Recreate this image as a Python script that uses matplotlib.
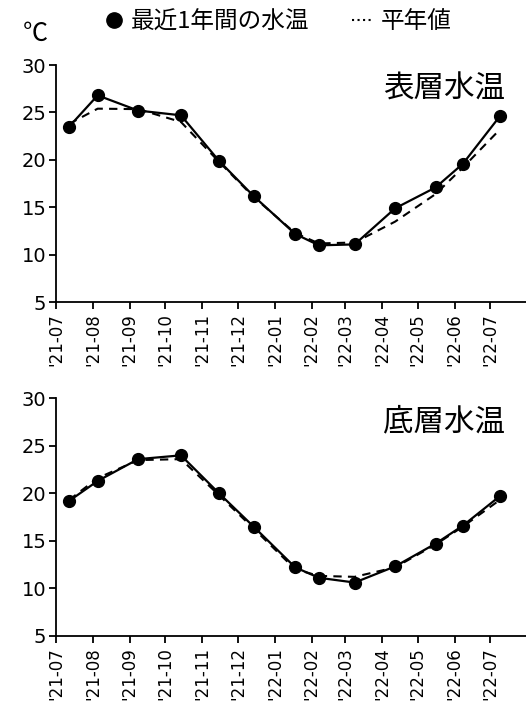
import numpy as np
import matplotlib
matplotlib.use('Agg')
import matplotlib.pyplot as plt
import matplotlib.dates as mdates
from matplotlib.lines import Line2D

plt.rcParams['font.family'] = ['Noto Sans CJK JP', 'DejaVu Sans']

# observation dates (same for both panels)
dates = np.array(['2021-07-12', '2021-08-05', '2021-09-08', '2021-10-14', '2021-11-15',
                  '2021-12-14', '2022-01-18', '2022-02-07', '2022-03-09', '2022-04-12',
                  '2022-05-16', '2022-06-08', '2022-07-09'], dtype='datetime64[D]')

surf_temp = [23.5, 26.8, 25.2, 24.7, 19.9, 16.2, 12.2, 11.0, 11.1, 14.9, 17.1, 19.6, 24.6]
surf_normal = [23.8, 25.4, 25.35, 24.0, 19.8, 16.1, 12.3, 11.2, 11.3, 13.5, 16.4, 19.2, 23.2]

bot_temp = [19.2, 21.3, 23.6, 24.0, 20.0, 16.5, 12.2, 11.1, 10.6, 12.3, 14.7, 16.6, 19.7]
bot_normal = [19.3, 21.6, 23.5, 23.6, 19.8, 16.3, 12.0, 11.3, 11.2, 12.2, 14.6, 16.5, 19.3]

titles = ['表層水温', '底層水温']
yticks = [5, 10, 15, 20, 25, 30]

fig = plt.figure(figsize=(5.26, 7.05), dpi=100)
ax1 = fig.add_axes([0.1065, 0.5712, 0.8935, 0.3366])
ax2 = fig.add_axes([0.1065, 0.0983, 0.8935, 0.3366])

for ax, obs, nrm, title in [(ax1, surf_temp, surf_normal, titles[0]),
                            (ax2, bot_temp, bot_normal, titles[1])]:
    ax.plot(dates, nrm, color='black', lw=1.5, ls=(0, (4, 3)))
    ax.plot(dates, obs, color='black', lw=1.6, marker='o', ms=8.5)
    ax.set_ylim(5, 30)
    ax.set_yticks(yticks)
    ax.set_xlim(np.datetime64('2021-07-01'), np.datetime64('2022-07-31'))
    ax.xaxis.set_major_locator(mdates.MonthLocator())
    ax.xaxis.set_major_formatter(mdates.DateFormatter("'%y-%m"))
    for lab in ax.get_xticklabels():
        lab.set_rotation(90)
        lab.set_family(['DejaVu Sans'])
    for lab in ax.get_yticklabels():
        lab.set_family(['DejaVu Sans'])
    ax.tick_params(axis='x', labelsize=12, length=5, width=1.3, pad=3)
    ax.tick_params(axis='y', labelsize=14, length=5, width=1.3, pad=2)
    ax.spines['top'].set_visible(False)
    ax.spines['right'].set_visible(False)
    ax.spines['left'].set_linewidth(1.3)
    ax.spines['bottom'].set_linewidth(1.3)
    ax.text(0.955, 0.9, title, transform=ax.transAxes, ha='right', va='center', fontsize=22)

fig.text(0.068, 0.952, '℃', ha='center', va='center', fontsize=18)

handles = [Line2D([], [], color='black', marker='o', ls='none', ms=11),
           Line2D([], [], color='black', ls=':', lw=1.5)]
fig.legend(handles, ['最近1年間の水温', '平年値'], loc='center', bbox_to_anchor=(0.527, 0.969),
           ncol=2, frameon=False, fontsize=17, handlelength=0.9, handletextpad=0.3,
           columnspacing=1.8)

fig.savefig('out.png', dpi=100)
